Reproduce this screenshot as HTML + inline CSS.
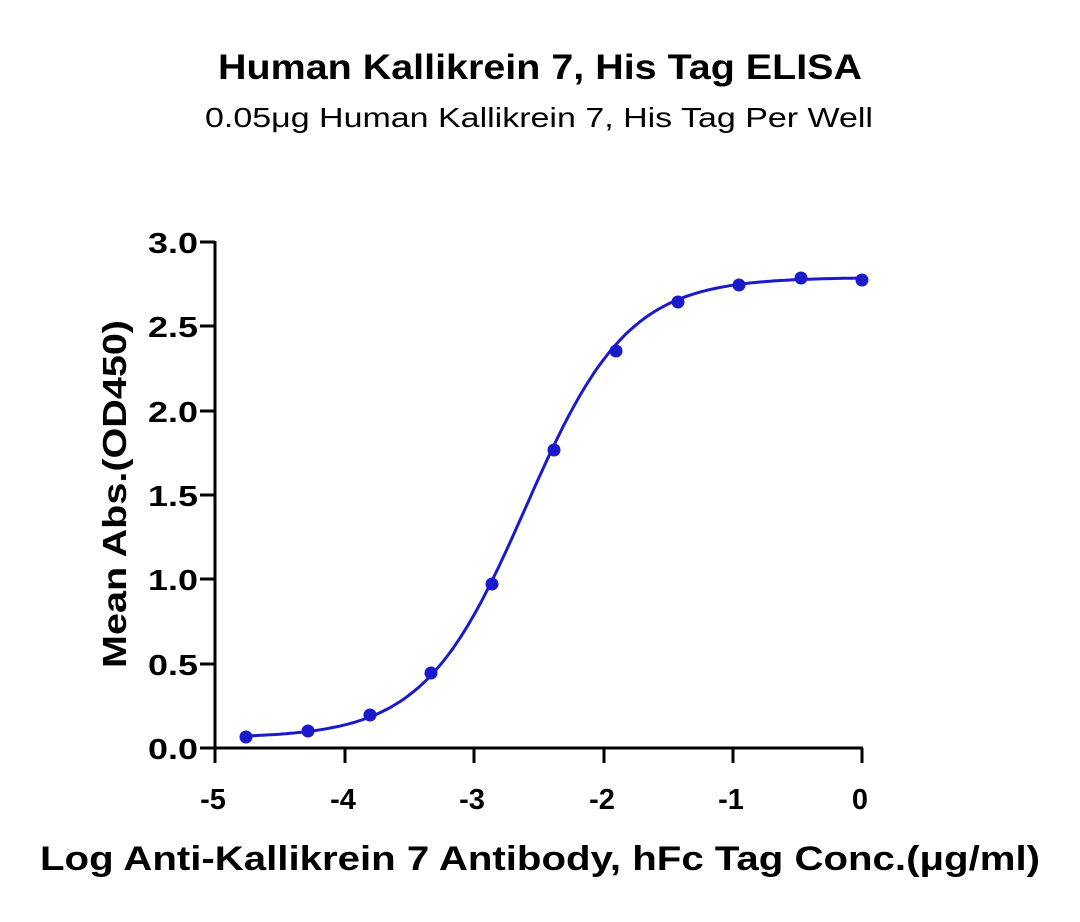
<!DOCTYPE html>
<html><head><meta charset="utf-8"><style>
body{margin:0;background:#fff;}
svg text{font-family:"Liberation Sans",sans-serif;fill:#000;}
</style></head><body>
<svg id="s" width="1080" height="917" viewBox="0 0 1080 917" xmlns="http://www.w3.org/2000/svg">
<text x="540" y="79" font-size="35" font-weight="bold" text-anchor="middle" textLength="644" lengthAdjust="spacingAndGlyphs">Human Kallikrein 7, His Tag ELISA</text>
<text x="539" y="127" font-size="28" text-anchor="middle" textLength="668" lengthAdjust="spacingAndGlyphs">0.05μg Human Kallikrein 7, His Tag Per Well</text>
<g stroke="#000" stroke-width="3" fill="none">
<line x1="215" y1="241" x2="215" y2="749"/>
<line x1="214" y1="748" x2="863" y2="748"/>
<line x1="200" y1="242" x2="215" y2="242"/>
<line x1="200" y1="326" x2="215" y2="326"/>
<line x1="200" y1="411" x2="215" y2="411"/>
<line x1="200" y1="495" x2="215" y2="495"/>
<line x1="200" y1="579" x2="215" y2="579"/>
<line x1="200" y1="664" x2="215" y2="664"/>
<line x1="200" y1="748" x2="215" y2="748"/>
<line x1="215" y1="748" x2="215" y2="763"/>
<line x1="345" y1="748" x2="345" y2="763"/>
<line x1="474" y1="748" x2="474" y2="763"/>
<line x1="604" y1="748" x2="604" y2="763"/>
<line x1="733" y1="748" x2="733" y2="763"/>
<line x1="862" y1="748" x2="862" y2="763"/>
</g>
<g font-size="29" font-weight="bold">
<text x="148" y="253" textLength="50" lengthAdjust="spacingAndGlyphs">3.0</text>
<text x="148" y="337" textLength="50" lengthAdjust="spacingAndGlyphs">2.5</text>
<text x="148" y="422" textLength="50" lengthAdjust="spacingAndGlyphs">2.0</text>
<text x="148" y="506" textLength="50" lengthAdjust="spacingAndGlyphs">1.5</text>
<text x="148" y="590" textLength="50" lengthAdjust="spacingAndGlyphs">1.0</text>
<text x="148" y="675" textLength="50" lengthAdjust="spacingAndGlyphs">0.5</text>
<text x="148" y="759" textLength="50" lengthAdjust="spacingAndGlyphs">0.0</text>
</g>
<g font-size="29" font-weight="bold" text-anchor="middle">
<text x="213" y="809">-5</text><text x="343" y="809">-4</text><text x="472" y="809">-3</text>
<text x="602" y="809">-2</text><text x="731" y="809">-1</text><text x="860" y="809">0</text>
</g>
<text transform="translate(126,494) rotate(-90)" font-size="33" font-weight="bold" text-anchor="middle" textLength="348" lengthAdjust="spacingAndGlyphs">Mean Abs.(OD450)</text>
<text x="540" y="870" font-size="34" font-weight="bold" text-anchor="middle" textLength="1000" lengthAdjust="spacingAndGlyphs">Log Anti-Kallikrein 7 Antibody, hFc Tag Conc.(μg/ml)</text>
<path id="c" fill="none" stroke="#1a1acc" stroke-width="3"/>
<g fill="#1a1acc">
<circle cx="246" cy="737" r="6.5"/><circle cx="308" cy="731" r="6.5"/><circle cx="370" cy="715" r="6.5"/>
<circle cx="431" cy="673" r="6.5"/><circle cx="492" cy="584" r="6.5"/><circle cx="554" cy="450" r="6.5"/>
<circle cx="616" cy="351" r="6.5"/><circle cx="678" cy="302" r="6.5"/><circle cx="739" cy="285" r="6.5"/>
<circle cx="801" cy="278" r="6.5"/><circle cx="862" cy="280" r="6.5"/>
</g>
</svg>
<script>
var d="";for(var i=0;i<=200;i++){var px=246+(862-246)*i/200;var x=(px-862)/129.4;
var v=0.06+2.73/(1+Math.pow(10,(-2.6-x)*1.1));var py=748-v*168.67;d+=(i?"L":"M")+px.toFixed(1)+","+py.toFixed(1);}
document.getElementById("c").setAttribute("d",d);
</script>
</body></html>
